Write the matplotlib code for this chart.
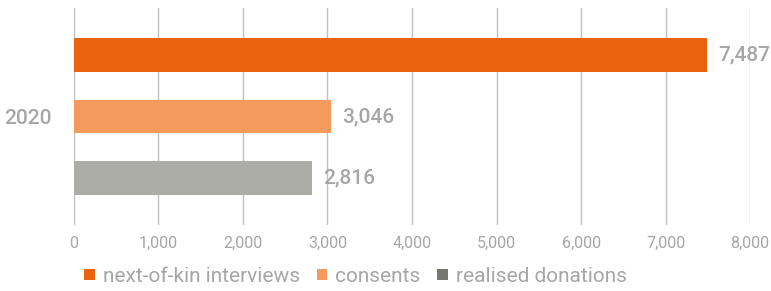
import matplotlib.pyplot as plt
from matplotlib.patches import Patch

plt.rcParams['font.family'] = ['Roboto', 'DejaVu Sans']

# data
year = '2020'
series = ['next-of-kin interviews', 'consents', 'realised donations']
values = [7487, 3046, 2816]
bar_colors = ['#EA640F', '#F39A5C', '#ADADA8']
legend_colors = ['#EA640F', '#F39A5C', '#777772']
xticks = [0, 1000, 2000, 3000, 4000, 5000, 6000, 7000, 8000]

text_grey = '#A6A6A6'

fig = plt.figure(figsize=(7.71, 2.91), dpi=100)
ax = fig.add_axes([0.0956, 0.227, 0.8774, 0.7455])

pos = list(range(len(values)))
bars = ax.barh(pos, values, height=0.55, color=bar_colors, zorder=3)
ax.set_ylim(2.76, -0.76)
ax.set_xlim(0, 8000)

for b, v in zip(bars, values):
    ax.annotate(f'{v:,}', (b.get_width(), b.get_y() + b.get_height() / 2),
                xytext=(8, 0), textcoords='offset points', va='center', ha='left',
                fontsize=15, fontweight='medium', color=text_grey, annotation_clip=False)

ax.set_xticks(xticks)
ax.set_xticklabels([f'{t:,}' for t in xticks], fontsize=11.5, color=text_grey)
ax.tick_params(axis='x', length=0, pad=8)
ax.set_yticks([1])
ax.set_yticklabels([year], fontsize=15, fontweight='medium', color=text_grey)
ax.tick_params(axis='y', length=0, pad=16)
ax.grid(axis='x', color='#C0C0C0', linewidth=1, zorder=0)
for s in ax.spines.values():
    s.set_visible(False)

handles = [Patch(facecolor=c, label=l) for c, l in zip(legend_colors, series)]
fig.legend(handles=handles, loc='center left', bbox_to_anchor=(0.085, 0.05),
           ncol=3, frameon=False, fontsize=15, labelcolor=text_grey,
           handlelength=0.5, handleheight=0.5, handletextpad=0.4, columnspacing=0.8)

fig.savefig('out.png', dpi=100)
